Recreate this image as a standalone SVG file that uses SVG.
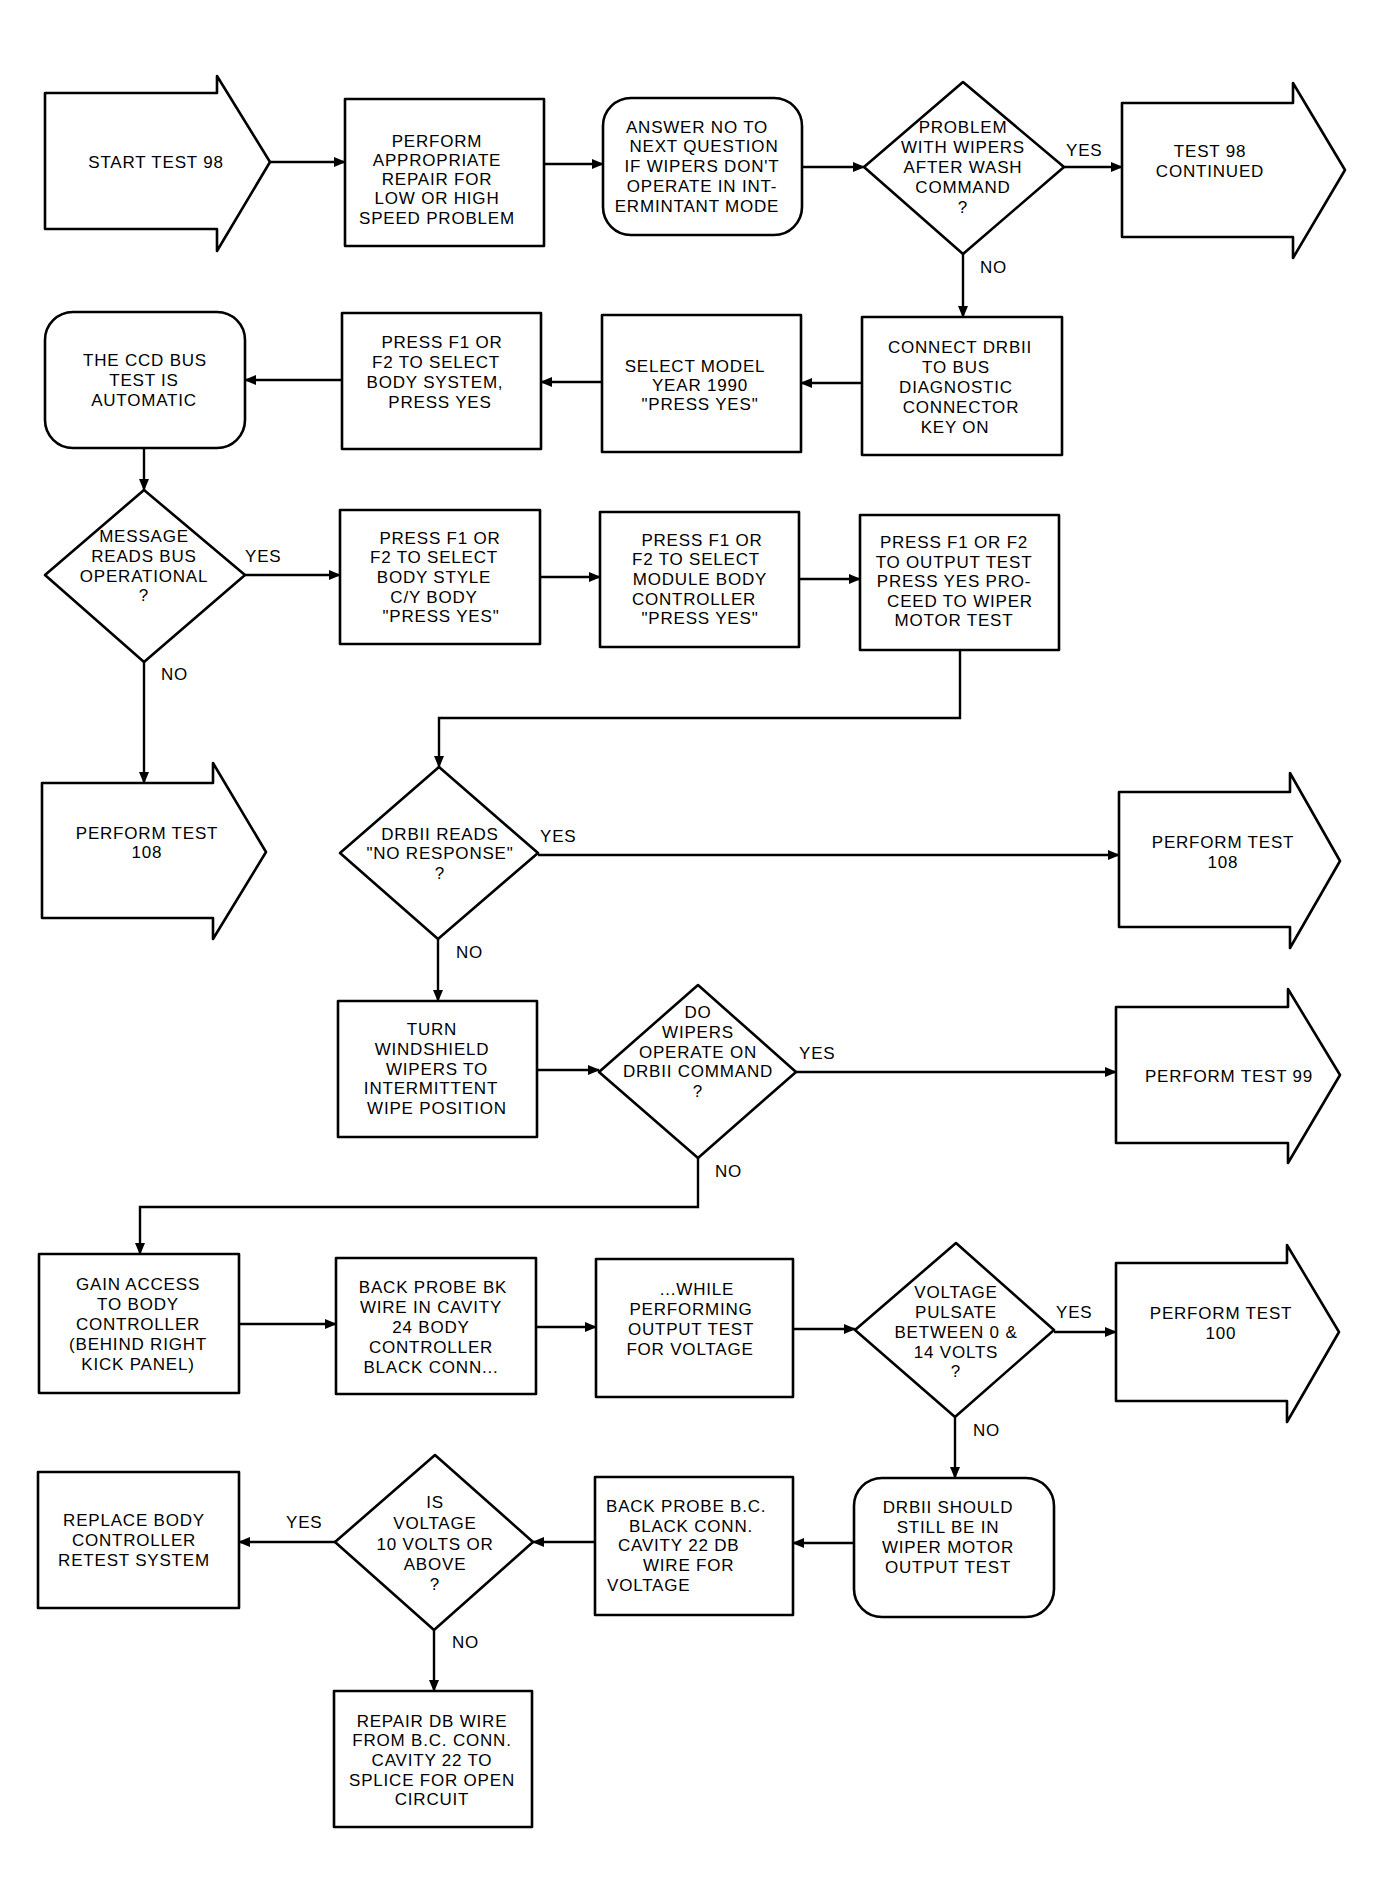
<svg xmlns="http://www.w3.org/2000/svg" width="1384" height="1903" viewBox="0 0 1384 1903">
<defs>
<marker id="ah" markerUnits="userSpaceOnUse" markerWidth="12" markerHeight="10" refX="11" refY="5" orient="auto">
<path d="M0,0 L12,5 L0,10 Z" fill="#000"/>
</marker>
<style>
.s{fill:#fff;stroke:#000;stroke-width:2.6;stroke-linejoin:round}
.c{fill:none;stroke:#000;stroke-width:2.4;marker-end:url(#ah)}
text{font-family:"Liberation Sans",Arial,sans-serif;font-size:17px;letter-spacing:0.8px;fill:#000}
.m{text-anchor:middle}
</style>
</defs>
<rect width="1384" height="1903" fill="#fff"/>

<g id="connectors">
<line class="c" x1="270" y1="162" x2="345" y2="162"/>
<line class="c" x1="544" y1="164" x2="603" y2="164"/>
<line class="c" x1="802" y1="167" x2="864" y2="167"/>
<line class="c" x1="1064" y1="167" x2="1122" y2="167"/>
<line class="c" x1="963" y1="254" x2="963" y2="317"/>
<line class="c" x1="862" y1="383" x2="801" y2="383"/>
<line class="c" x1="602" y1="382" x2="541" y2="382"/>
<line class="c" x1="342" y1="380" x2="245" y2="380"/>
<line class="c" x1="144" y1="448" x2="144" y2="490"/>
<line class="c" x1="245" y1="575" x2="340" y2="575"/>
<line class="c" x1="540" y1="577" x2="600" y2="577"/>
<line class="c" x1="799" y1="579" x2="860" y2="579"/>
<polyline class="c" points="960,650 960,718 439,718 439,767"/>
<line class="c" x1="538" y1="855" x2="1119" y2="855"/>
<line class="c" x1="144" y1="662" x2="144" y2="783"/>
<line class="c" x1="438" y1="939" x2="438" y2="1001"/>
<line class="c" x1="537" y1="1070" x2="599" y2="1070"/>
<line class="c" x1="796" y1="1072" x2="1116" y2="1072"/>
<polyline class="c" points="698,1158 698,1207 140,1207 140,1254"/>
<line class="c" x1="239" y1="1324" x2="336" y2="1324"/>
<line class="c" x1="536" y1="1327" x2="596" y2="1327"/>
<line class="c" x1="793" y1="1329" x2="855" y2="1329"/>
<line class="c" x1="1054" y1="1332" x2="1116" y2="1332"/>
<line class="c" x1="955" y1="1417" x2="955" y2="1478"/>
<line class="c" x1="854" y1="1543" x2="793" y2="1543"/>
<line class="c" x1="595" y1="1542" x2="533" y2="1542"/>
<line class="c" x1="335" y1="1542" x2="239" y2="1542"/>
<line class="c" x1="434" y1="1630" x2="434" y2="1691"/>
<text x="1066" y="156">YES</text>
<text x="980" y="273">NO</text>
<text x="245" y="562">YES</text>
<text x="161" y="680">NO</text>
<text x="540" y="842">YES</text>
<text x="456" y="958">NO</text>
<text x="799" y="1059">YES</text>
<text x="715" y="1177">NO</text>
<text x="1056" y="1318">YES</text>
<text x="973" y="1436">NO</text>
<text x="286" y="1528">YES</text>
<text x="452" y="1648">NO</text>
</g>

<g id="start">
<path class="s" d="M45,93 L217,93 L217,76 L270,162 L217,251 L217,229 L45,229 Z"/>
<text class="m" x="156" y="168">START TEST 98</text>
</g>

<g id="perform-repair">
<rect class="s" x="345" y="99" width="199" height="147"/>
<text class="m" x="437" y="147">PERFORM</text>
<text class="m" x="437" y="166">APPROPRIATE</text>
<text class="m" x="437" y="185">REPAIR FOR</text>
<text class="m" x="437" y="204">LOW OR HIGH</text>
<text class="m" x="437" y="224">SPEED PROBLEM</text>
</g>

<g id="answer-no">
<rect class="s" x="603" y="98" width="199" height="137" rx="28" ry="28"/>
<text class="m" x="697" y="133">ANSWER NO TO</text>
<text class="m" x="704" y="152">NEXT QUESTION</text>
<text class="m" x="702" y="172">IF WIPERS DON'T</text>
<text class="m" x="702" y="192">OPERATE IN INT-</text>
<text class="m" x="697" y="212">ERMINTANT MODE</text>
</g>

<g id="problem-wipers">
<polygon class="s" points="963,82 1064,167 963,254 864,167"/>
<text class="m" x="963" y="133">PROBLEM</text>
<text class="m" x="963" y="153">WITH WIPERS</text>
<text class="m" x="963" y="173">AFTER WASH</text>
<text class="m" x="963" y="193">COMMAND</text>
<text class="m" x="963" y="213">?</text>
</g>

<g id="test98-continued">
<path class="s" d="M1122,103 L1293,103 L1293,83 L1345,170 L1293,258 L1293,237 L1122,237 Z"/>
<text class="m" x="1210" y="157">TEST 98</text>
<text class="m" x="1210" y="177">CONTINUED</text>
</g>

<g id="connect-drbii">
<rect class="s" x="862" y="317" width="200" height="138"/>
<text class="m" x="960" y="353">CONNECT DRBII</text>
<text class="m" x="956" y="373">TO BUS</text>
<text class="m" x="956" y="393">DIAGNOSTIC</text>
<text class="m" x="961" y="413">CONNECTOR</text>
<text class="m" x="955" y="433">KEY ON</text>
</g>

<g id="select-model">
<rect class="s" x="602" y="315" width="199" height="137"/>
<text class="m" x="695" y="372">SELECT MODEL</text>
<text class="m" x="700" y="391">YEAR 1990</text>
<text class="m" x="700" y="410">"PRESS YES"</text>
</g>

<g id="select-body-system">
<rect class="s" x="342" y="313" width="199" height="136"/>
<text class="m" x="442" y="348">PRESS F1 OR</text>
<text class="m" x="436" y="368">F2 TO SELECT</text>
<text class="m" x="435" y="388">BODY SYSTEM,</text>
<text class="m" x="440" y="408">PRESS YES</text>
</g>

<g id="ccd-bus">
<rect class="s" x="45" y="312" width="200" height="136" rx="28" ry="28"/>
<text class="m" x="145" y="366">THE CCD BUS</text>
<text class="m" x="144" y="386">TEST IS</text>
<text class="m" x="144" y="406">AUTOMATIC</text>
</g>

<g id="message-bus">
<polygon class="s" points="144,490 245,575 144,662 45,575"/>
<text class="m" x="144" y="542">MESSAGE</text>
<text class="m" x="144" y="562">READS BUS</text>
<text class="m" x="144" y="582">OPERATIONAL</text>
<text class="m" x="144" y="601">?</text>
</g>

<g id="select-body-style">
<rect class="s" x="340" y="510" width="200" height="134"/>
<text class="m" x="440" y="544">PRESS F1 OR</text>
<text class="m" x="434" y="563">F2 TO SELECT</text>
<text class="m" x="434" y="583">BODY STYLE</text>
<text class="m" x="434" y="603">C/Y BODY</text>
<text class="m" x="441" y="622">"PRESS YES"</text>
</g>

<g id="select-module">
<rect class="s" x="600" y="512" width="199" height="135"/>
<text class="m" x="702" y="546">PRESS F1 OR</text>
<text class="m" x="696" y="565">F2 TO SELECT</text>
<text class="m" x="700" y="585">MODULE BODY</text>
<text class="m" x="694" y="605">CONTROLLER</text>
<text class="m" x="700" y="624">"PRESS YES"</text>
</g>

<g id="output-test">
<rect class="s" x="860" y="515" width="199" height="135"/>
<text class="m" x="954" y="548">PRESS F1 OR F2</text>
<text class="m" x="954" y="568">TO OUTPUT TEST</text>
<text class="m" x="954" y="587">PRESS YES PRO-</text>
<text class="m" x="960" y="607">CEED TO WIPER</text>
<text class="m" x="954" y="626">MOTOR TEST</text>
</g>

<g id="perform-108-left">
<path class="s" d="M42,783 L213,783 L213,763 L266,852 L213,939 L213,918 L42,918 Z"/>
<text class="m" x="147" y="839">PERFORM TEST</text>
<text class="m" x="147" y="858">108</text>
</g>

<g id="drbii-no-response">
<polygon class="s" points="439,767 538,853 438,939 340,853"/>
<text class="m" x="440" y="840">DRBII READS</text>
<text class="m" x="440" y="859">"NO RESPONSE"</text>
<text class="m" x="440" y="879">?</text>
</g>

<g id="perform-108-right">
<path class="s" d="M1119,792 L1290,792 L1290,773 L1340,861 L1290,948 L1290,927 L1119,927 Z"/>
<text class="m" x="1223" y="848">PERFORM TEST</text>
<text class="m" x="1223" y="868">108</text>
</g>

<g id="turn-wipers">
<rect class="s" x="338" y="1001" width="199" height="136"/>
<text class="m" x="432" y="1035">TURN</text>
<text class="m" x="432" y="1055">WINDSHIELD</text>
<text class="m" x="437" y="1075">WIPERS TO</text>
<text class="m" x="431" y="1094">INTERMITTENT</text>
<text class="m" x="437" y="1114">WIPE POSITION</text>
</g>

<g id="wipers-operate">
<polygon class="s" points="698,985 796,1072 698,1158 599,1072"/>
<text class="m" x="698" y="1018">DO</text>
<text class="m" x="698" y="1038">WIPERS</text>
<text class="m" x="698" y="1058">OPERATE ON</text>
<text class="m" x="698" y="1077">DRBII COMMAND</text>
<text class="m" x="698" y="1097">?</text>
</g>

<g id="perform-99">
<path class="s" d="M1116,1007 L1288,1007 L1288,989 L1340,1075 L1288,1163 L1288,1143 L1116,1143 Z"/>
<text class="m" x="1229" y="1082">PERFORM TEST 99</text>
</g>

<g id="gain-access">
<rect class="s" x="39" y="1254" width="200" height="139"/>
<text class="m" x="138" y="1290">GAIN ACCESS</text>
<text class="m" x="138" y="1310">TO BODY</text>
<text class="m" x="138" y="1330">CONTROLLER</text>
<text class="m" x="138" y="1350">(BEHIND RIGHT</text>
<text class="m" x="138" y="1370">KICK PANEL)</text>
</g>

<g id="back-probe-bk">
<rect class="s" x="336" y="1258" width="200" height="136"/>
<text class="m" x="433" y="1293">BACK PROBE BK</text>
<text class="m" x="431" y="1313">WIRE IN CAVITY</text>
<text class="m" x="431" y="1333">24 BODY</text>
<text class="m" x="431" y="1353">CONTROLLER</text>
<text class="m" x="431" y="1373">BLACK CONN...</text>
</g>

<g id="while-performing">
<rect class="s" x="596" y="1259" width="197" height="138"/>
<text class="m" x="697" y="1295">...WHILE</text>
<text class="m" x="691" y="1315">PERFORMING</text>
<text class="m" x="691" y="1335">OUTPUT TEST</text>
<text class="m" x="690" y="1355">FOR VOLTAGE</text>
</g>

<g id="voltage-pulsate">
<polygon class="s" points="956,1243 1054,1330 955,1417 855,1330"/>
<text class="m" x="956" y="1298">VOLTAGE</text>
<text class="m" x="956" y="1318">PULSATE</text>
<text class="m" x="956" y="1338">BETWEEN 0 &amp;</text>
<text class="m" x="956" y="1358">14 VOLTS</text>
<text class="m" x="956" y="1377">?</text>
</g>

<g id="perform-100">
<path class="s" d="M1116,1263 L1287,1263 L1287,1245 L1339,1332 L1287,1422 L1287,1401 L1116,1401 Z"/>
<text class="m" x="1221" y="1319">PERFORM TEST</text>
<text class="m" x="1221" y="1339">100</text>
</g>

<g id="drbii-should">
<rect class="s" x="854" y="1478" width="200" height="139" rx="28" ry="28"/>
<text class="m" x="948" y="1513">DRBII SHOULD</text>
<text class="m" x="948" y="1533">STILL BE IN</text>
<text class="m" x="948" y="1553">WIPER MOTOR</text>
<text class="m" x="948" y="1573">OUTPUT TEST</text>
</g>

<g id="back-probe-bc">
<rect class="s" x="595" y="1477" width="198" height="138"/>
<text x="606" y="1512">BACK PROBE B.C.</text>
<text x="629" y="1532">BLACK CONN.</text>
<text x="618" y="1551">CAVITY 22 DB</text>
<text x="643" y="1571">WIRE FOR</text>
<text x="607" y="1591">VOLTAGE</text>
</g>

<g id="voltage-10">
<polygon class="s" points="435,1455 533,1542 434,1630 335,1542"/>
<text class="m" x="435" y="1508">IS</text>
<text class="m" x="435" y="1529">VOLTAGE</text>
<text class="m" x="435" y="1550">10 VOLTS OR</text>
<text class="m" x="435" y="1570">ABOVE</text>
<text class="m" x="435" y="1590">?</text>
</g>

<g id="replace-body">
<rect class="s" x="38" y="1472" width="201" height="136"/>
<text class="m" x="134" y="1526">REPLACE BODY</text>
<text class="m" x="134" y="1546">CONTROLLER</text>
<text class="m" x="134" y="1566">RETEST SYSTEM</text>
</g>

<g id="repair-db">
<rect class="s" x="334" y="1691" width="198" height="136"/>
<text class="m" x="432" y="1727">REPAIR DB WIRE</text>
<text class="m" x="432" y="1746">FROM B.C. CONN.</text>
<text class="m" x="432" y="1766">CAVITY 22 TO</text>
<text class="m" x="432" y="1786">SPLICE FOR OPEN</text>
<text class="m" x="432" y="1805">CIRCUIT</text>
</g>
</svg>
